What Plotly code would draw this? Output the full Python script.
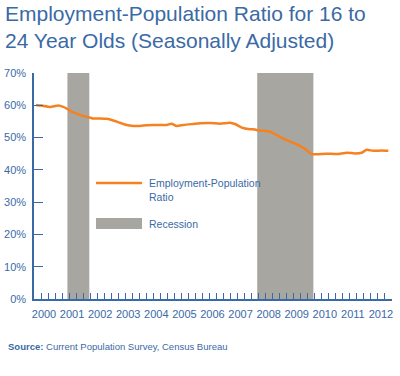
import plotly.graph_objects as go

# Data (decimal years since 2000, percent)
years = [0.07, 0.27, 0.57, 0.87, 1.04, 1.16, 1.34, 1.58, 1.88, 2.11, 2.35, 2.59, 2.82, 3.06,
         3.30, 3.54, 3.77, 4.01, 4.25, 4.49, 4.73, 4.90, 5.08, 5.32, 5.67, 5.91, 6.27, 6.62,
         6.98, 7.16, 7.40, 7.69, 7.87, 7.99, 8.23, 8.40, 8.64, 9.00, 9.36, 9.65, 9.89, 10.07,
         10.42, 10.78, 11.14, 11.43, 11.67, 11.85, 12.08, 12.38, 12.62]
ratio = [60.1, 59.9, 59.5, 59.9, 59.5, 59.0, 58.0, 57.2, 56.4, 55.9, 55.9, 55.8, 55.3, 54.6,
         53.9, 53.6, 53.6, 53.8, 53.9, 53.9, 53.9, 54.3, 53.6, 53.9, 54.2, 54.4, 54.5, 54.3,
         54.6, 54.2, 53.1, 52.6, 52.5, 52.2, 52.1, 51.8, 50.8, 49.2, 47.9, 46.5, 44.9, 44.8,
         45.0, 44.9, 45.3, 45.1, 45.3, 46.2, 45.9, 46.0, 45.9]
recession_start = [1.19, 7.95]
recession_end = [1.97, 9.95]
year_labels = ["2000", "2001", "2002", "2003", "2004", "2005", "2006",
               "2007", "2008", "2009", "2010", "2011", "2012"]
y_ticks = [0, 10, 20, 30, 40, 50, 60, 70]
y_labels = ["0%", "10%", "20%", "30%", "40%", "50%", "60%", "70%"]

BLUE = "#3a6aa6"
ORANGE = "#f5821f"
GRAY = "#a7a6a1"
FONT = "Liberation Sans"

fig = go.Figure()

shapes = []
for s, e in zip(recession_start, recession_end):
    shapes.append(dict(type="rect", xref="x", yref="y", x0=s, x1=e, y0=0, y1=70,
                       fillcolor=GRAY, line=dict(width=0), layer="below"))

fig.add_trace(go.Scatter(x=years, y=ratio, mode="lines",
                         line=dict(color=ORANGE, width=2.5, shape="spline", smoothing=0.6),
                         showlegend=False, hoverinfo="skip"))

L, R, T, B = 34, 8, 73, 77
PW, PH = 400 - L - R, 376 - T - B


def px(x):
    return (x - L) / PW


def py(y):
    return (376 - B - y) / PH


# Manual legend
shapes.append(dict(type="line", xref="paper", yref="paper", x0=px(96), x1=px(142),
                   y0=py(183), y1=py(183), line=dict(color=ORANGE, width=2.5)))
shapes.append(dict(type="rect", xref="paper", yref="paper", x0=px(96), x1=px(142),
                   y0=py(229), y1=py(218), fillcolor=GRAY, line=dict(width=0)))

annotations = [
    dict(text="Employment-Population Ratio for 16 to<br>24 Year Olds (Seasonally Adjusted)",
         xref="paper", yref="paper", x=px(3), y=py(0), xanchor="left", yanchor="top",
         showarrow=False, align="left",
         font=dict(family=FONT, size=21, color=BLUE)),
    dict(text="Employment-Population<br>Ratio", xref="paper", yref="paper",
         x=px(147), y=py(175), xanchor="left", yanchor="top", showarrow=False, align="left",
         font=dict(family=FONT, size=10.5, color=BLUE)),
    dict(text="Recession", xref="paper", yref="paper",
         x=px(147), y=py(224), xanchor="left", yanchor="middle", showarrow=False,
         font=dict(family=FONT, size=10.5, color=BLUE)),
    dict(text="<b>Source:</b> Current Population Survey, Census Bureau", xref="paper", yref="paper",
         x=px(6), y=py(346), xanchor="left", yanchor="middle", showarrow=False,
         font=dict(family=FONT, size=9.5, color=BLUE)),
]

fig.update_layout(
    width=400, height=376,
    margin=dict(l=L, r=R, t=T, b=B, pad=0, autoexpand=False),
    paper_bgcolor="white", plot_bgcolor="white",
    shapes=shapes, annotations=annotations,
    xaxis=dict(range=[0, 12.75], showgrid=False, zeroline=False, automargin=False,
               showline=True, linecolor=BLUE, linewidth=1.5,
               tickvals=list(range(13)), ticktext=year_labels, ticklabelshift=10,
               ticklabeloverflow="allow", ticklabelstandoff=4, tickangle=0,
               ticks="inside", ticklen=6, tickcolor=BLUE, tickwidth=1,
               minor=dict(dtick=0.25, tick0=0, ticks="inside", ticklen=6, tickcolor=BLUE, tickwidth=1),
               tickfont=dict(family=FONT, size=11, color=BLUE)),
    yaxis=dict(range=[0, 70], showgrid=False, zeroline=False, automargin=False,
               showline=True, linecolor=BLUE, linewidth=1.5,
               tickvals=y_ticks, ticktext=y_labels, ticklabeloverflow="allow",
               ticklabelstandoff=4,
               ticks="inside", ticklen=9, tickcolor=BLUE, tickwidth=1,
               tickfont=dict(family=FONT, size=11, color=BLUE)),
)

fig.write_html("out.html", config={"displayModeBar": False},
               post_script="document.body.style.margin='0';")
